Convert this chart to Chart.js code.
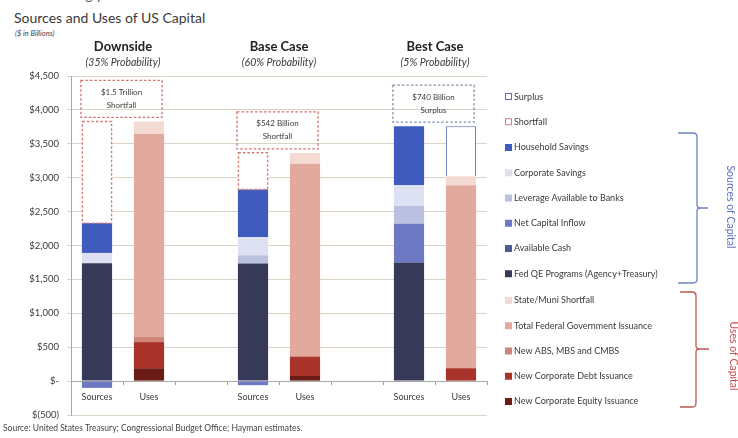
<!DOCTYPE html>
<html lang="en">
<head>
<meta charset="UTF-8">
<title>Sources and Uses of US Capital</title>
<script src="https://cdn.jsdelivr.net/npm/chart.js@4.4.1/dist/chart.umd.min.js"></script>
<style>
  body { margin: 0; background: #fff; }
  #wrap { position: relative; width: 738px; height: 438px; overflow: hidden; font-family: Lato, "Liberation Sans", sans-serif; color: #3a3a3a; }
  #chart { position: absolute; left: 0; top: 0; }
  .txt { position: absolute; white-space: nowrap; line-height: 1; }
  .cut { left: 36px; top: -12px; font-size: 14px; color: #555; }
  .title { left: 14px; top: 11px; font-size: 14px; color: #3a3a3a; }
  .unit { left: 15px; top: 30px; font-size: 7.5px; font-style: italic; color: #444; }
  .source { left: 3px; top: 424px; font-size: 8.5px; color: #444; }
</style>
</head>
<body>
<div id="wrap">
  <div class="txt cut">following years</div>
  <div class="txt title">Sources and Uses of US Capital</div>
  <div class="txt unit">($ in Billions)</div>
  <canvas id="chart" width="738" height="438"></canvas>
  <div class="txt source">Source: United States Treasury; Congressional Budget Office; Hayman estimates.</div>
</div>
<script>
  // Bar slots: Sources / Uses per scenario, with an empty slot between scenarios
  const categories = ['Sources', 'Uses', '', 'Sources', 'Uses', '', 'Sources', 'Uses'];
  const scenarioNames = ['Downside', 'Base Case', 'Best Case'];
  const scenarioProbs = ['(35% Probability)', '(60% Probability)', '(5% Probability)'];
  const gapNotes = [['$1.5 Trillion', 'Shortfall'], ['$542 Billion', 'Shortfall'], ['$740 Billion', 'Surplus']];
  const yTicks = { min: -500, max: 4500, step: 500 };

  // Uses of capital ($ billions)
  const equityIssuance  = [null, 190, null, null, 75, null, null, 0];
  const debtIssuance    = [null, 385, null, null, 280, null, null, 190];
  const absIssuance     = [null, 75, null, null, 20, null, null, 0];
  const federalIssuance = [null, 3000, null, null, 2830, null, null, 2700];
  const stateMuni       = [null, 180, null, null, 160, null, null, 130];

  // Sources of capital ($ billions)
  const fedQE            = [1740, null, null, 1735, null, null, 1750, null];
  const availableCash    = [0, null, null, 0, null, null, 0, null];
  const netCapitalInflow = [-100, null, null, -60, null, null, 570, null];
  const bankLeverage     = [0, null, null, 120, null, null, 265, null];
  const corporateSavings = [150, null, null, 265, null, null, 305, null];
  const householdSavings = [440, null, null, 705, null, null, 870, null];

  // Gap between the two sides
  const shortfall = [1500, null, null, 542, null, null, null, null];
  const surplus   = [null, null, null, null, null, null, null, 740];

  // stacking order bottom -> top; the legend lists them in reverse
  const series = [
    { label: 'New Corporate Equity Issuance', data: equityIssuance, color: '#6c1b14' },
    { label: 'New Corporate Debt Issuance', data: debtIssuance, color: '#a9332a' },
    { label: 'New ABS, MBS and CMBS', data: absIssuance, color: '#cf8579' },
    { label: 'Total Federal Government Issuance', data: federalIssuance, color: '#e2aa9c' },
    { label: 'State/Muni Shortfall', data: stateMuni, color: '#f3dbd4' },
    { label: 'Fed QE Programs (Agency+Treasury)', data: fedQE, color: '#363a58' },
    { label: 'Available Cash', data: availableCash, color: '#535b8e' },
    { label: 'Net Capital Inflow', data: netCapitalInflow, color: '#6d79c4' },
    { label: 'Leverage Available to Banks', data: bankLeverage, color: '#bac0e0' },
    { label: 'Corporate Savings', data: corporateSavings, color: '#dee1f1' },
    { label: 'Household Savings', data: householdSavings, color: '#3f5bbd' },
    { label: 'Shortfall', data: shortfall, color: '#ffffff', dashed: '#d47c7c' },
    { label: 'Surplus', data: surplus, color: '#ffffff', outline: '#5d6ca8' }
  ];

  const FONT = 'Lato, "Liberation Sans", sans-serif';
  const TEXT = '#3a3a3a';

  function money(v) {
    if (v === 0) return '$-';
    if (v < 0) return '$(' + (-v).toLocaleString('en-US') + ')';
    return '$' + v.toLocaleString('en-US');
  }

  function stackTop(idx) {
    let sum = 0;
    series.forEach(s => { if (s.data[idx] > 0) sum += s.data[idx]; });
    return sum;
  }

  function drawBrace(ctx, x0, xv, top, bottom, mid, tip, color) {
    ctx.save();
    ctx.strokeStyle = color;
    ctx.lineWidth = 1.3;
    ctx.beginPath();
    ctx.moveTo(x0, top);
    ctx.lineTo(xv - 4, top);
    ctx.quadraticCurveTo(xv, top, xv, top + 4);
    ctx.lineTo(xv, mid - 3);
    ctx.quadraticCurveTo(xv, mid, xv + 4, mid);
    ctx.lineTo(xv + tip, mid);
    ctx.moveTo(xv + 4, mid);
    ctx.quadraticCurveTo(xv, mid, xv, mid + 3);
    ctx.lineTo(xv, bottom - 4);
    ctx.quadraticCurveTo(xv, bottom, xv - 4, bottom);
    ctx.lineTo(x0, bottom);
    ctx.stroke();
    ctx.restore();
  }

  function drawVertical(ctx, text, x, y, size, color) {
    ctx.save();
    ctx.translate(x, y);
    ctx.rotate(Math.PI / 2);
    ctx.font = size + 'px ' + FONT;
    ctx.fillStyle = color;
    ctx.textAlign = 'center';
    ctx.textBaseline = 'middle';
    ctx.fillText(text, 0, 0);
    ctx.restore();
  }

  // outlines for the gap bars, scenario headers, gap notes, legend and braces
  const decorations = {
    id: 'decorations',
    afterDatasetsDraw(chart) {
      const ctx = chart.ctx;
      series.forEach((s, i) => {
        if (!s.dashed) return;
        chart.getDatasetMeta(i).data.forEach((el, idx) => {
          if (s.data[idx] == null) return;
          const w = el.width;
          ctx.save();
          ctx.strokeStyle = s.dashed;
          ctx.lineWidth = 1.4;
          ctx.setLineDash([2.5, 2]);
          ctx.strokeRect(el.x - w / 2 + 0.5, el.y, w - 1, el.base - el.y);
          ctx.restore();
        });
      });
    },
    afterDraw(chart) {
      const ctx = chart.ctx;
      const xs = chart.scales.x, ys = chart.scales.y;
      const barW = chart.getDatasetMeta(5).data[0].width;

      scenarioNames.forEach((name, g) => {
        const iSrc = g * 3, iUse = g * 3 + 1;
        const cx = (xs.getPixelForValue(iSrc) + xs.getPixelForValue(iUse)) / 2;
        ctx.save();
        ctx.fillStyle = '#222';
        ctx.textAlign = 'center';
        ctx.textBaseline = 'middle';
        ctx.font = 'bold 13px ' + FONT;
        ctx.fillText(name, cx, 47);
        ctx.font = 'italic 10.5px ' + FONT;
        ctx.fillStyle = TEXT;
        ctx.fillText(scenarioProbs[g], cx, 63);

        // dotted note box sitting just above the taller bar
        const top = Math.max(stackTop(iSrc), stackTop(iUse));
        const bottomY = ys.getPixelForValue(top) - 4;
        const left = xs.getPixelForValue(iSrc) - barW / 2 - 1;
        const right = xs.getPixelForValue(iUse) + barW / 2 - 2;
        const isSurplus = gapNotes[g][1] === 'Surplus';
        ctx.strokeStyle = isSurplus ? '#8390aa' : '#cf7070';
        ctx.lineWidth = 1.3;
        ctx.setLineDash([2.5, 2]);
        ctx.strokeRect(left, bottomY - 37, right - left, 37);
        ctx.setLineDash([]);
        ctx.font = '8px ' + FONT;
        ctx.fillStyle = TEXT;
        ctx.fillText(gapNotes[g][0], (left + right) / 2, bottomY - 25);
        ctx.fillText(gapNotes[g][1], (left + right) / 2, bottomY - 12);
        ctx.restore();
      });

      // legend, top entry is the last stacked series
      const order = series.slice().reverse();
      ctx.save();
      ctx.font = '9px ' + FONT;
      ctx.textBaseline = 'middle';
      order.forEach((s, k) => {
        const y = 97 + k * 25.25 + (k >= 8 ? 1.5 : 0);
        if (s.dashed || s.outline) {
          ctx.fillStyle = '#fff';
          ctx.fillRect(505.5, y - 3.5, 6, 6);
          ctx.strokeStyle = s.dashed || s.outline;
          ctx.lineWidth = 1;
          ctx.strokeRect(505.5, y - 3.5, 6, 6);
        } else {
          ctx.fillStyle = s.color;
          ctx.fillRect(505, y - 3.5, 7, 7);
        }
        ctx.fillStyle = TEXT;
        ctx.fillText(s.label, 514, y);
      });
      ctx.restore();

      drawBrace(ctx, 678, 697, 133, 283, 208, 11, '#6f82c6');
      drawVertical(ctx, 'Sources of Capital', 730, 207, 10.5, '#5a72c2');
      drawBrace(ctx, 680, 696, 292, 407, 349, 13, '#b65a55');
      drawVertical(ctx, 'Uses of Capital', 733, 356, 10.5, '#c0504d');
    }
  };

  const datasets = series.map(s => ({
    label: s.label,
    data: s.data,
    backgroundColor: s.color,
    borderColor: s.outline || s.color,
    borderWidth: s.outline ? 1 : 0,
    categoryPercentage: 1,
    barPercentage: 0.58
  }));

  new Chart(document.getElementById('chart'), {
    type: 'bar',
    data: { labels: categories, datasets: datasets },
    options: {
      responsive: false,
      animation: false,
      devicePixelRatio: 1,
      layout: { padding: { top: 76, right: 251, bottom: 23, left: 0 } },
      plugins: { legend: { display: false }, tooltip: { enabled: false } },
      scales: {
        x: {
          stacked: true,
          position: { y: 0 },
          grid: { drawOnChartArea: false, drawTicks: true, tickLength: 3, offset: true, color: '#a0a0a0' },
          border: { color: '#a8a8a8' },
          ticks: { padding: 8, color: TEXT, font: { family: FONT, size: 9 } }
        },
        y: {
          stacked: true,
          min: yTicks.min,
          max: yTicks.max,
          afterFit: scale => { scale.width = 71; },
          grid: { color: '#dcd3c6', tickLength: 4 },
          border: { color: '#a8a8a8' },
          ticks: {
            stepSize: yTicks.step,
            padding: 8,
            color: TEXT,
            font: { family: FONT, size: 9.5 },
            callback: v => money(v)
          }
        }
      }
    },
    plugins: [decorations]
  });
</script>
</body>
</html>
